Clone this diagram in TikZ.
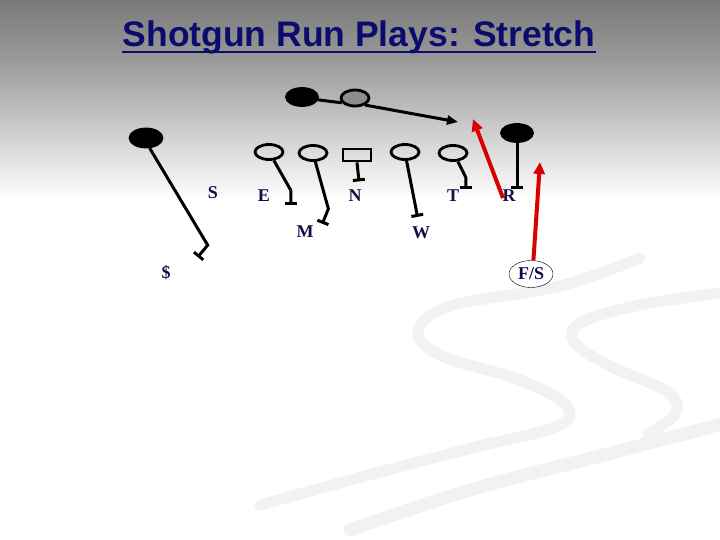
\documentclass[tikz,border=0pt]{standalone}
\usepackage{fontspec}
\setmainfont{Liberation Serif}
\newfontfamily\titlefont{Liberation Sans}
\usetikzlibrary{shapes.geometric, arrows.meta}

\definecolor{titleblue}{HTML}{0C0C6E}
\definecolor{labelnavy}{HTML}{10104A}
\definecolor{swoosh}{HTML}{F2F2F2}

\begin{document}
\begin{tikzpicture}[x=1pt, y=-1pt,
    player/.style={draw, ellipse, line width=2.8pt, minimum width=28pt, minimum height=15pt, inner sep=0pt},
    offense/.style={player, fill=black, minimum width=31pt, minimum height=17pt},
    lbl/.style={text=labelnavy, font=\bfseries\fontsize{18}{18}\selectfont, inner sep=0pt},
    block/.style={line width=3pt, -{Bar[width=12pt, line width=3pt]}},
    red run/.style={draw=red!85!black, line width=4pt, -{Triangle[length=12pt, width=11pt]}}]
    \useasboundingbox (0,0) rectangle (720,540);
    % background
    \fill[top color={rgb,255:red,122;green,122;blue,122}, bottom color={rgb,255:red,154;green,154;blue,154}] (0,0) rectangle (720,60.5);
    \fill[top color={rgb,255:red,154;green,154;blue,154}, middle color={rgb,255:red,225;green,225;blue,225}, bottom color=white] (0,60) rectangle (720,200);
    \fill[white] (0,200) rectangle (720,540);
    \draw[swoosh, line width=11pt, line cap=round] plot[smooth, tension=0.6] coordinates {(640,258) (560,286) (450,306) (418,332) (442,356) (520,380) (566,405) (558,426) (480,446) (380,472) (260,505)};
    \draw[swoosh, line width=11pt, line cap=round] plot[smooth, tension=0.6] coordinates {(720,293) (640,305) (582,322) (574,342) (610,366) (668,392) (675,414) (648,434)};
    \draw[swoosh, line width=13pt, line cap=round] plot[smooth, tension=0.6] coordinates {(722,424) (600,456) (470,490) (350,530)};

    % title
    \node[anchor=base, inner sep=0pt, text=titleblue, font=\titlefont\bfseries\fontsize{35.5}{35.5}\selectfont] (title) at (359,47) {Shotgun Run Plays: Stretch};
    \draw[titleblue, line width=2.6pt] ([yshift=-5pt]title.base west) -- ([yshift=-5pt]title.base east);

    % offense
    \node[offense] (qb) at (302,97) {};
    \node[player, fill=black!45, minimum width=28pt, minimum height=16pt] (rb) at (355,98) {};
    \node[offense, minimum width=32pt, minimum height=18pt] (slot) at (146,138) {};
    \node[offense] (wr) at (517,133) {};
    \coordinate (mesh) at (458,122);

    % defense
    \node[player] (dend) at (269,152) {};
    \node[player] (mike) at (313,153) {};
    \node[draw, rectangle, line width=2.8pt, minimum width=28pt, minimum height=12pt, inner sep=0pt] (nose) at (357,155) {};
    \node[player] (will) at (405,152) {};
    \node[player] (tack) at (453,153) {};

    % labels
    \node[lbl] (s) at (213,193) {S};
    \node[lbl] (e) at (264,196) {E};
    \node[lbl] (n) at (355,196) {N};
    \node[lbl] (t) at (453,196) {T};
    \node[lbl] (r) at (509,196) {R};
    \node[lbl] (m) at (305,232) {M};
    \node[lbl] (w) at (421,233) {W};
    \node[lbl] (dollar) at (166,273) {\$};
    \node[draw, ellipse, thin, lbl, minimum width=44pt, minimum height=27pt] (fs) at (531,274) {F/S};

    % blocks
    \draw[block] (slot.-70) -- ++(58,97) -- ++(-10,12);
    \draw[block] (dend.-60) -- ++(17,30) -- ++(0,15);
    \draw[block] (mike.-75) -- ++(13,47) -- ++(-6,15);
    \draw[block] (nose.south) -- ++(2,19);
    \draw[block] (will.-80) -- ++(11,56);
    \draw[block] (tack.-60) -- ++(8,16) -- ++(0,12);
    \draw[block] (wr.south) -- ++(0,46);

    % ball carrier
    \draw[line width=3pt] (qb.-10) -- (rb.200);
    \draw[line width=3pt, -{Triangle[length=11pt, width=9pt]}] (rb.-35) -- (mesh);

    % reads
    \coordinate (rtail) at (503,198);
    \coordinate (rtip) at (473,119);
    \coordinate (fstip) at (540,162);
    \draw[red run] (rtail) -- (rtip);
    \draw[red run] (fs.80) -- (fstip);
\end{tikzpicture}
\end{document}
